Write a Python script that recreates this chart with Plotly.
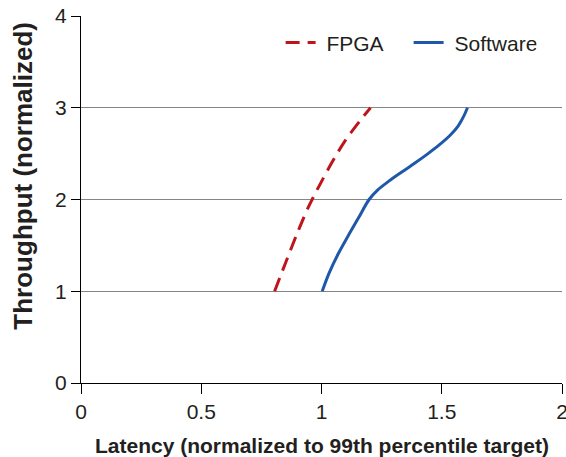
import plotly.graph_objects as go

fpga_x = [0.805, 0.850, 0.899, 0.940, 0.961, 0.996, 1.045, 1.100, 1.162, 1.204]
fpga_y = [1.0, 1.306, 1.632, 1.886, 2.0, 2.176, 2.411, 2.647, 2.865, 3.0]

sw_x = [1.003, 1.032, 1.068, 1.110, 1.154, 1.198, 1.232, 1.280, 1.334, 1.390, 1.443, 1.492, 1.535, 1.568, 1.590, 1.607]
sw_y = [1.0, 1.2, 1.4, 1.6, 1.8, 2.0, 2.1, 2.2, 2.3, 2.4, 2.5, 2.6, 2.7, 2.8, 2.9, 3.0]

x_ticks = [0, 0.5, 1, 1.5, 2]
x_labels = ["0", "0.5", "1", "1.5", "2"]
y_ticks = [0, 1, 2, 3, 4]

FONT = "Liberation Sans, Arial, sans-serif"
TXT = "#231f20"

fig = go.Figure()
fig.add_trace(go.Scatter(x=fpga_x, y=fpga_y, mode="lines", name=" FPGA",
                         line=dict(color="#c0141c", width=3, dash="14px,8px", shape="spline", smoothing=1)))
fig.add_trace(go.Scatter(x=sw_x, y=sw_y, mode="lines", name=" Software",
                         line=dict(color="#1f58a8", width=3, shape="spline", smoothing=1)))

fig.update_layout(
    width=566, height=457,
    margin=dict(l=81, r=4, t=16, b=74, autoexpand=False),
    paper_bgcolor="white", plot_bgcolor="white",
    font=dict(family=FONT, size=21, color=TXT),
    showlegend=True,
    legend=dict(orientation="h", x=0.415, xanchor="left", y=0.9266, yanchor="middle",
                font=dict(size=21, color=TXT), bgcolor="rgba(0,0,0,0)",
                entrywidth=83, entrywidthmode="pixels"),
    xaxis=dict(range=[0, 2], tickvals=x_ticks, ticktext=x_labels, showgrid=False,
               zeroline=False, showline=True, linecolor="black", linewidth=1,
               ticks="outside", ticklen=10, tickcolor="black", automargin=False,
               ticklabeloverflow="allow",
               tickfont=dict(size=21, color=TXT)),
    yaxis=dict(range=[0, 4], tickvals=y_ticks, showgrid=True, gridcolor="#858585", gridwidth=1,
               zeroline=False, showline=True, linecolor="black", linewidth=1,
               ticks="outside", ticklen=9, tickcolor="black", automargin=False,
               ticklabeloverflow="allow",
               tickfont=dict(size=21, color=TXT)),
    annotations=[
        dict(text="<b>Latency (normalized to 99th percentile target)</b>", xref="paper", yref="paper",
             x=0.5, y=0, xanchor="center", yanchor="middle", yshift=-62, showarrow=False,
             font=dict(size=21, color=TXT)),
        dict(text="<b>Throughput (normalized)</b>", xref="paper", yref="paper",
             x=0, y=0.565, xanchor="center", yanchor="middle", xshift=-58, textangle=-90,
             showarrow=False, font=dict(size=26, color=TXT)),
    ],
)

fig.write_html("out.html", config={"displayModeBar": False},
               post_script="document.body.style.margin='0';document.body.style.overflow='hidden';")
